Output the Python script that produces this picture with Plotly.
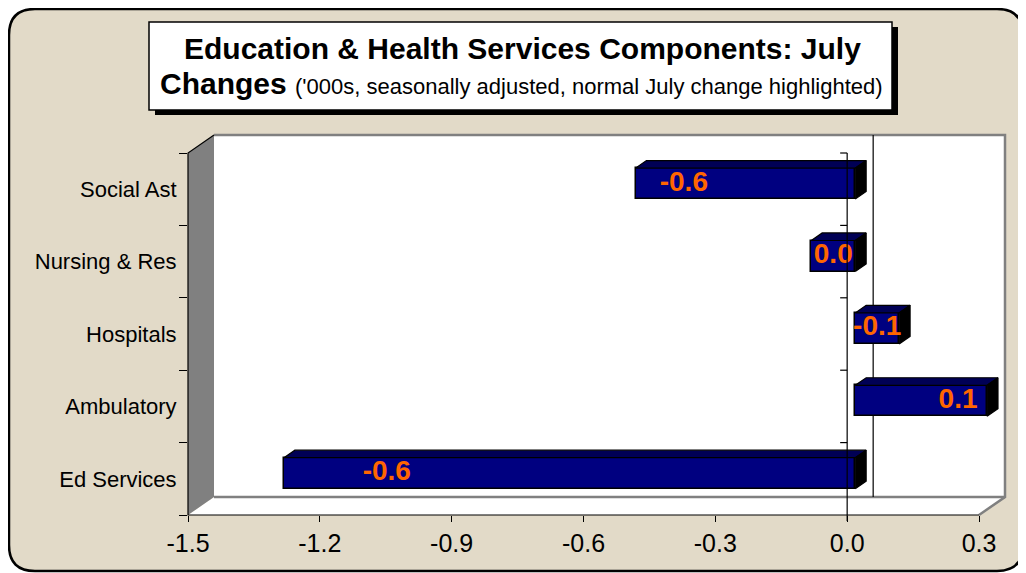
import plotly.graph_objects as go

# ---------------- data ----------------
categories = ["Ed Services", "Ambulatory", "Hospitals", "Nursing & Res", "Social Ast"]
bar_values = [-1.3, 0.3, 0.1, -0.1, -0.5]          # bar lengths ('000s)
label_values = [-0.6, 0.1, -0.1, 0.0, -0.6]        # highlighted normal July change labels
x_ticks = [-1.5, -1.2, -0.9, -0.6, -0.3, 0.0, 0.3]

title_line1 = "Education & Health Services Components: July"
title_line2_bold = "Changes"
title_line2_rest = "('000s, seasonally adjusted, normal July change highlighted)"

# ---------------- geometry / style ----------------
W, H = 1026, 573
OFF = 8                                    # page body margin
L, R, T, B = 188 - OFF, 1005 - OFF, 135 - OFF, 515 - OFF   # plot-area pixels (figure coords)
DXPX, DYPX = 26, 18                        # 3-D depth offset in pixels
PXX = (R - DXPX - L) / 1.8
PXY = (B - DYPX - T) / 5.0
DX, DY = DXPX / PXX, DYPX / PXY
XR = [-1.5, 0.3 + DX]
YR = [-0.5, 4.5 + DY]
F1, F2 = 0.31, 0.73                        # bar front / back depth fractions
BAR_W = 31 / PXY

FONT = "Liberation Sans, Arial, sans-serif"
BEIGE = "#E2DAC8"
NAVY = "#000080"
NAVY_TOP = "#000055"
ORANGE = "#FF6600"
GRAY = "#808080"


def fmt(v):
    s = f"{v:.1f}"
    return "0.0" if s == "-0.0" else s


def P(x, y):
    return (x - XR[0]) / (XR[1] - XR[0]), (y - YR[0]) / (YR[1] - YR[0])


def PX(px, py):
    """page pixel -> paper coords"""
    return (px - OFF - L) / (R - L), (B - (py - OFF)) / (B - T)


def path(pts, close=True):
    s = "M " + " L ".join(f"{a:.5f},{b:.5f}" for a, b in pts)
    return s + (" Z" if close else "")


def pp(px, py):
    a, b = PX(px, py)
    return f"{a:.5f},{b:.5f}"


shapes = []

# outer rounded beige panel
x0, y0, x1, y1, r = 9, 9, 1023, 571, 26
rr = (f"M {pp(x0+r,y0)} L {pp(x1-r,y0)} Q {pp(x1,y0)} {pp(x1,y0+r)} "
      f"L {pp(x1,y1-r)} Q {pp(x1,y1)} {pp(x1-r,y1)} L {pp(x0+r,y1)} "
      f"Q {pp(x0,y1)} {pp(x0,y1-r)} L {pp(x0,y0+r)} Q {pp(x0,y0)} {pp(x0+r,y0)} Z")
shapes.append(dict(type="path", xref="paper", yref="paper", path=rr,
                   fillcolor=BEIGE, line=dict(color="black", width=2.5), layer="below"))

# title box with shadow
sx0, sy0 = PX(155, 27)
sx1, sy1 = PX(898, 115)
shapes.append(dict(type="rect", xref="paper", yref="paper", x0=sx0, y0=sy0, x1=sx1, y1=sy1,
                   fillcolor="black", line=dict(width=0), layer="below"))
bx0, by0 = PX(149, 22)
bx1, by1 = PX(892, 110)
shapes.append(dict(type="rect", xref="paper", yref="paper", x0=bx0, y0=by0, x1=bx1, y1=by1,
                   fillcolor="white", line=dict(color="black", width=1.5), layer="below"))

# back wall
shapes.append(dict(type="path", xref="paper", yref="paper",
                   path=path([P(XR[0] + DX, YR[0] + DY), P(XR[1], YR[0] + DY),
                              P(XR[1], YR[1]), P(XR[0] + DX, YR[1])]),
                   fillcolor="white", line=dict(width=0), layer="below"))
# floor
shapes.append(dict(type="path", xref="paper", yref="paper",
                   path=path([P(-1.5, -0.5), P(0.3, -0.5), P(0.3 + DX, -0.5 + DY), P(-1.5 + DX, -0.5 + DY)]),
                   fillcolor="white", line=dict(width=0), layer="below"))
# left wall
shapes.append(dict(type="path", xref="paper", yref="paper",
                   path=path([P(-1.5, -0.5), P(-1.5 + DX, -0.5 + DY), P(-1.5 + DX, 4.5 + DY), P(-1.5, 4.5)]),
                   fillcolor=GRAY, line=dict(width=0), layer="below"))
# wall / floor gray edges
shapes.append(dict(type="path", xref="paper", yref="paper",
                   path=path([P(-1.5 + DX, 4.5 + DY), P(0.3 + DX, 4.5 + DY), P(0.3 + DX, -0.5 + DY),
                              P(0.3, -0.5)], close=False),
                   line=dict(color=GRAY, width=2.5), layer="below"))
shapes.append(dict(type="path", xref="paper", yref="paper",
                   path=path([P(-1.5 + DX, -0.5 + DY), P(0.3 + DX, -0.5 + DY)], close=False),
                   line=dict(color=GRAY, width=2.5), layer="below"))
# black left wall front edge + top diagonal + front floor edge
shapes.append(dict(type="path", xref="paper", yref="paper",
                   path=path([P(-1.5 + DX, 4.5 + DY), P(-1.5, 4.5), P(-1.5, -0.5), P(0.3, -0.5)], close=False),
                   line=dict(color="black", width=1.2), layer="below"))
# back-plane zero line (behind bars)
shapes.append(dict(type="path", xref="paper", yref="paper",
                   path=path([P(0 + DX, -0.5 + DY), P(0 + DX, 4.5 + DY)], close=False),
                   line=dict(color="black", width=1.2), layer="below"))
# front zero line with category ticks (above bars)
shapes.append(dict(type="path", xref="paper", yref="paper",
                   path=path([P(0, 4.5), P(0, -0.5 - 6 / PXY)], close=False),
                   line=dict(color="black", width=1.2), layer="above"))
for k in range(len(categories)):
    yb = k + 0.5
    shapes.append(dict(type="path", xref="paper", yref="paper",
                       path=path([P(-7 / PXX, yb), P(0, yb)], close=False),
                       line=dict(color="black", width=1.2), layer="above"))

# ---------------- traces ----------------
ypos = list(range(len(categories)))
base = F1 * DX
yfront = [k + F1 * DY for k in ypos]
ddx, ddy = (F2 - F1) * DX, (F2 - F1) * DY

fig = go.Figure()
fig.add_trace(go.Bar(
    y=yfront, x=bar_values, base=[base] * len(bar_values), orientation="h",
    width=BAR_W, marker=dict(color=NAVY, line=dict(color="black", width=1.5)),
    hoverinfo="skip", showlegend=False))

top_x, top_y, side_x, side_y = [], [], [], []
for v, yc in zip(bar_values, yfront):
    xa, xb = min(base, base + v), max(base, base + v)
    yt, ybt = yc + BAR_W / 2, yc - BAR_W / 2
    top_x += [xa, xb, xb + ddx, xa + ddx, xa, None]
    top_y += [yt, yt, yt + ddy, yt + ddy, yt, None]
    side_x += [xb, xb, xb + ddx, xb + ddx, xb, None]
    side_y += [ybt, yt, yt + ddy, ybt + ddy, ybt, None]

fig.add_trace(go.Scatter(x=top_x, y=top_y, fill="toself", mode="lines",
                         fillcolor=NAVY_TOP, line=dict(color="black", width=1.2),
                         hoverinfo="skip", showlegend=False))
fig.add_trace(go.Scatter(x=side_x, y=side_y, fill="toself", mode="lines",
                         fillcolor="black", line=dict(color="black", width=1.2),
                         hoverinfo="skip", showlegend=False))

lab_x = [base + v * (0.82 if abs(v) >= 1 else (0.78 if abs(v) >= 0.2 else 0.5)) for v in bar_values]
lab_t = [fmt(v) for v in label_values]
fig.add_trace(go.Scatter(x=lab_x, y=yfront, mode="text", text=lab_t,
                         textposition="middle center",
                         textfont=dict(family=FONT, size=28, color=ORANGE, weight="bold"),
                         hoverinfo="skip", showlegend=False, cliponaxis=False))

# title
t1x, t1y = PX(522, 48)
t2x, t2y = PX(521, 84)
annotations = [
    dict(xref="paper", yref="paper", x=t1x, y=t1y, xanchor="center", yanchor="middle",
         text=f"<b>{title_line1}</b>", showarrow=False,
         font=dict(family=FONT, size=30, color="black")),
    dict(xref="paper", yref="paper", x=t2x, y=t2y, xanchor="center", yanchor="middle",
         text=f"<b>{title_line2_bold}</b> <span style='font-size:22px'>{title_line2_rest}</span>",
         showarrow=False, font=dict(family=FONT, size=30, color="black")),
]

fig.update_layout(
    width=W, height=H,
    margin=dict(l=L, r=W - R, t=T, b=H - B, pad=0),
    paper_bgcolor="white", plot_bgcolor="rgba(0,0,0,0)",
    shapes=shapes, annotations=annotations,
    bargap=0, showlegend=False,
    xaxis=dict(range=XR, tickvals=x_ticks, ticktext=[fmt(v) for v in x_ticks],
               ticks="outside", ticklen=6,
               tickcolor="black", tickwidth=1.2, showgrid=False, zeroline=False, showline=False,
               tickfont=dict(family=FONT, size=25, color="black"), fixedrange=True),
    yaxis=dict(range=YR, tickvals=ypos, ticktext=categories, ticks="outside", ticklen=6,
               tickcolor="rgba(0,0,0,0)", showgrid=False, zeroline=False, showline=False,
               tickfont=dict(family=FONT, size=22, color="black"), fixedrange=True,
               minor=dict(tickvals=[k - 0.5 for k in range(len(categories) + 1)], ticks="outside",
                          ticklen=8, tickcolor="black", tickwidth=1.2, showgrid=False)),
)

fig.write_html("out.html")
